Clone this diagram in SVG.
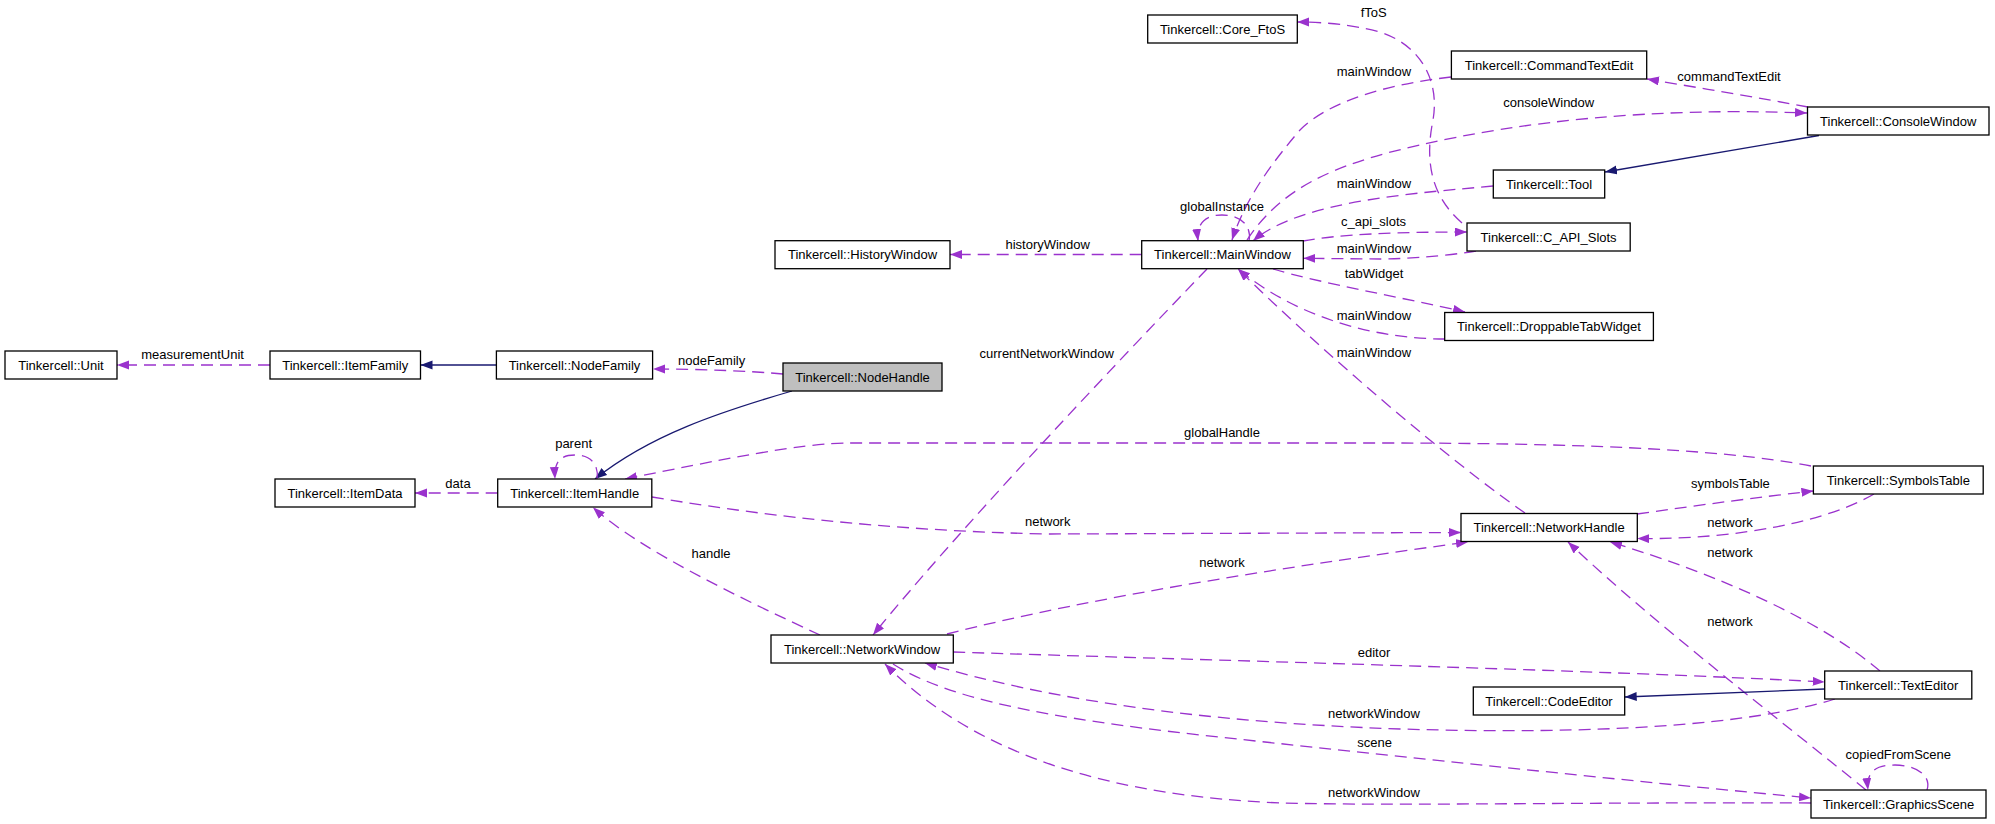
<svg xmlns="http://www.w3.org/2000/svg" width="1995" height="824" viewBox="0 0 1995 824">
<style>
.node rect{fill:#ffffff;stroke:#000000;stroke-width:1.3}
.node.cur rect{fill:#bfbfbf}
text{font-family:"Liberation Sans",Arial,sans-serif;font-size:13px;fill:#000000;text-anchor:middle}
.dep{fill:none;stroke:#9a32cd;stroke-width:1.3;stroke-dasharray:12,7;marker-end:url(#ap)}
.inh{fill:none;stroke:#191970;stroke-width:1.3;marker-end:url(#an)}
</style>
<defs>
<marker id="ap" markerUnits="userSpaceOnUse" markerWidth="13" markerHeight="10" refX="12" refY="4.5" orient="auto" viewBox="0 0 13 10">
<path d="M0,0 L12,4.5 L0,9 z" fill="#9a32cd"/>
</marker>
<marker id="an" markerUnits="userSpaceOnUse" markerWidth="13" markerHeight="10" refX="12" refY="4.5" orient="auto" viewBox="0 0 13 10">
<path d="M0,0 L12,4.5 L0,9 z" fill="#191970"/>
</marker>
</defs>
<rect x="0" y="0" width="1995" height="824" fill="#ffffff"/>

<g id="connectors">
<path class="dep" d="M270,365 L117,365"/>
<path class="inh" d="M496,365 L420.5,365"/>
<path class="dep" d="M783,374 C750,371 700,369 653,369"/>
<path class="inh" d="M792,391 C720,412 650,435 595,479"/>
<path class="dep" d="M497.7,493 L415,493"/>
<path class="dep" d="M597,479 C599,466 592,455 575,455 C560,455 554,462 555,479"/>
<path class="dep" d="M1811,466 C1720,448 1560,443 1380,443 L850,443 C800,443 720,460 625,479"/>
<path class="dep" d="M1141.7,254.5 L950,254.5"/>
<path class="dep" d="M1249,241 C1252,225 1240,215 1222,215 C1205,215 1196,224 1198,241"/>
<path class="dep" d="M1207,269 C1100,380 950,540 873,635"/>
<path class="dep" d="M1525,513 C1455,465 1320,350 1238,269"/>
<path class="dep" d="M1445,339 C1380,339 1300,320 1238,269"/>
<path class="dep" d="M1273,269 C1320,283 1400,297 1465,312"/>
<path class="dep" d="M1303,241 C1340,234 1400,232 1467,232"/>
<path class="dep" d="M1476,251 C1440,257 1400,259 1380,259 L1303.3,258.3"/>
<path class="dep" d="M1493,186 C1420,193 1300,200 1253,241"/>
<path class="inh" d="M1819,135.5 L1605,172"/>
<path class="dep" d="M1808,107 C1760,98 1700,88 1647,79"/>
<path class="dep" d="M1247,240 C1280,190 1330,165 1420,145 C1520,122 1650,107 1807,113"/>
<path class="dep" d="M1451,77 C1390,84 1330,100 1300,130 C1270,165 1245,200 1232,240"/>
<path class="dep" d="M1462,223 C1430,195 1425,160 1433,120 C1440,80 1420,45 1380,32 C1350,24 1320,22 1297.3,22"/>
<path class="dep" d="M652,497 C740,512 880,531 1050,534 L1461,532.5"/>
<path class="dep" d="M820,635 C740,598 640,550 593,507.5"/>
<path class="dep" d="M947,634 C1100,595 1300,565 1468,542"/>
<path class="dep" d="M1874,494 C1830,520 1740,540 1637.3,538.5"/>
<path class="dep" d="M1637,514 C1700,505 1760,497 1813.4,491"/>
<path class="dep" d="M1880,671 C1820,620 1720,575 1610,542"/>
<path class="dep" d="M1866,790 C1780,720 1650,620 1568,542"/>
<path class="dep" d="M1927,790 C1932,775 1915,765 1895,765 C1875,765 1866,772 1868,790"/>
<path class="inh" d="M1824.7,689 L1624.7,697"/>
<path class="dep" d="M953.3,652 C1200,660 1600,670 1824.7,682"/>
<path class="dep" d="M1835,699 C1750,725 1600,735 1400,729 C1200,722 1050,700 925,663"/>
<path class="dep" d="M893,664 C950,700 1050,718 1200,735 C1450,762 1650,783 1811,798"/>
<path class="dep" d="M1811,803 C1600,802 1400,806 1280,803 C1120,796 980,760 885,664"/>

<text x="192.6" y="359">measurementUnit</text>
<text x="711.6" y="365">nodeFamily</text>
<text x="573.6" y="448">parent</text>
<text x="458" y="488">data</text>
<text x="1222" y="437">globalHandle</text>
<text x="711" y="558">handle</text>
<text x="1047.7" y="526">network</text>
<text x="1047.7" y="249">historyWindow</text>
<text x="1046.7" y="358">currentNetworkWindow</text>
<text x="1222" y="211">globalInstance</text>
<text x="1373.7" y="17">fToS</text>
<text x="1374" y="76">mainWindow</text>
<text x="1729" y="81">commandTextEdit</text>
<text x="1548.7" y="107">consoleWindow</text>
<text x="1374" y="188">mainWindow</text>
<text x="1373.5" y="226">c_api_slots</text>
<text x="1374" y="253">mainWindow</text>
<text x="1374" y="278">tabWidget</text>
<text x="1374" y="320">mainWindow</text>
<text x="1374" y="357">mainWindow</text>
<text x="1730.4" y="488">symbolsTable</text>
<text x="1730" y="527">network</text>
<text x="1730" y="557">network</text>
<text x="1730" y="626">network</text>
<text x="1222" y="567">network</text>
<text x="1374" y="657">editor</text>
<text x="1374" y="718">networkWindow</text>
<text x="1374.6" y="747">scene</text>
<text x="1374" y="797">networkWindow</text>
<text x="1898.3" y="759">copiedFromScene</text>
</g>

<g id="node-unit" class="node"><rect x="5" y="351" width="112" height="28"/><text x="61" y="369.5">Tinkercell::Unit</text></g>
<g id="node-itemfamily" class="node"><rect x="270" y="351" width="150.5" height="28"/><text x="345.2" y="369.5">Tinkercell::ItemFamily</text></g>
<g id="node-nodefamily" class="node"><rect x="496.4" y="351" width="156.2" height="28"/><text x="574.5" y="369.5">Tinkercell::NodeFamily</text></g>
<g id="node-itemdata" class="node"><rect x="275" y="479" width="140" height="28"/><text x="345" y="497.5">Tinkercell::ItemData</text></g>
<g id="node-itemhandle" class="node"><rect x="497.7" y="479" width="154.1" height="28"/><text x="574.7" y="497.5">Tinkercell::ItemHandle</text></g>
<g id="node-nodehandle" class="node cur"><rect x="783" y="363" width="159" height="28"/><text x="862.5" y="381.5">Tinkercell::NodeHandle</text></g>
<g id="node-historywindow" class="node"><rect x="775" y="240.7" width="175" height="28"/><text x="862.5" y="259.2">Tinkercell::HistoryWindow</text></g>
<g id="node-mainwindow" class="node"><rect x="1141.7" y="240.7" width="161.6" height="28"/><text x="1222.5" y="259.2">Tinkercell::MainWindow</text></g>
<g id="node-coreftos" class="node"><rect x="1147.7" y="15" width="149.6" height="28"/><text x="1222.5" y="33.5">Tinkercell::Core_FtoS</text></g>
<g id="node-commandtextedit" class="node"><rect x="1451.4" y="51" width="195.3" height="28"/><text x="1549" y="69.5">Tinkercell::CommandTextEdit</text></g>
<g id="node-consolewindow" class="node"><rect x="1807.5" y="107" width="181.5" height="28"/><text x="1898.2" y="125.5">Tinkercell::ConsoleWindow</text></g>
<g id="node-tool" class="node"><rect x="1493.3" y="170" width="111.4" height="28"/><text x="1549" y="188.5">Tinkercell::Tool</text></g>
<g id="node-capislots" class="node"><rect x="1467" y="223" width="163.2" height="28"/><text x="1548.6" y="241.5">Tinkercell::C_API_Slots</text></g>
<g id="node-droppabletabwidget" class="node"><rect x="1444.7" y="312.5" width="208.7" height="28"/><text x="1549" y="331">Tinkercell::DroppableTabWidget</text></g>
<g id="node-symbolstable" class="node"><rect x="1813.4" y="466" width="169.8" height="28"/><text x="1898.3" y="484.5">Tinkercell::SymbolsTable</text></g>
<g id="node-networkhandle" class="node"><rect x="1461" y="513.5" width="176.3" height="28"/><text x="1549.1" y="532">Tinkercell::NetworkHandle</text></g>
<g id="node-networkwindow" class="node"><rect x="771" y="635" width="182.3" height="28"/><text x="862.1" y="653.5">Tinkercell::NetworkWindow</text></g>
<g id="node-texteditor" class="node"><rect x="1824.7" y="671" width="147.1" height="28"/><text x="1898.2" y="689.5">Tinkercell::TextEditor</text></g>
<g id="node-codeeditor" class="node"><rect x="1473.3" y="687" width="151.4" height="28"/><text x="1549" y="705.5">Tinkercell::CodeEditor</text></g>
<g id="node-graphicsscene" class="node"><rect x="1811" y="790" width="175" height="28"/><text x="1898.5" y="808.5">Tinkercell::GraphicsScene</text></g>
</svg>
